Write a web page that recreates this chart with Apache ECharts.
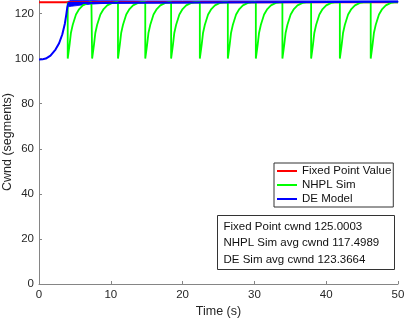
<!DOCTYPE html>
<html>
<head>
<meta charset="utf-8">
<script src="https://cdn.jsdelivr.net/npm/echarts@6/dist/echarts.min.js"></script>
<style>
  html, body { margin: 0; padding: 0; background: #fff; }
  #chart_cwnd { width: 407px; height: 321px; }
</style>
</head>
<body>
<div id="chart_cwnd"></div>
<script>
// values
const xTicks = [0, 10, 20, 30, 40, 50]
const yTicks = [0, 20, 40, 60, 80, 100, 120]

// fixed point value (flat)
const fixedTime = [0, 50]
const fixedCwnd = [125, 125]

// NHPL sim: sawtooth, drops to 100 then climbs back to 125
const nhplPoints = [
  [4.0, 125], [4.0, 100], [4.25, 106], [4.45, 111.5], [4.7, 115], [5.15, 119.6], [5.6, 122], [6.1, 123.6], [6.8, 124.7], [7.3, 125],
  [7.4, 125], [7.4, 100], [7.65, 106], [7.85, 111.5], [8.1, 115], [8.55, 119.6], [9.0, 122], [9.5, 123.6], [10.2, 124.7], [10.7, 125],
  [11.0, 125], [11.0, 100], [11.25, 106], [11.45, 111.5], [11.7, 115], [12.15, 119.6], [12.6, 122], [13.1, 123.6], [13.8, 124.7], [14.3, 125],
  [14.8, 125], [14.8, 100], [15.05, 106], [15.25, 111.5], [15.5, 115], [15.95, 119.6], [16.4, 122], [16.9, 123.6], [17.6, 124.7], [18.1, 125],
  [18.4, 125], [18.4, 100], [18.65, 106], [18.85, 111.5], [19.1, 115], [19.55, 119.6], [20.0, 122], [20.5, 123.6], [21.2, 124.7], [21.7, 125],
  [22.4, 125], [22.4, 100], [22.65, 106], [22.85, 111.5], [23.1, 115], [23.55, 119.6], [24.0, 122], [24.5, 123.6], [25.2, 124.7], [25.7, 125],
  [26.3, 125], [26.3, 100], [26.55, 106], [26.75, 111.5], [27.0, 115], [27.45, 119.6], [27.9, 122], [28.4, 123.6], [29.1, 124.7], [29.6, 125],
  [30.2, 125], [30.2, 100], [30.45, 106], [30.65, 111.5], [30.9, 115], [31.35, 119.6], [31.8, 122], [32.3, 123.6], [33.0, 124.7], [33.5, 125],
  [33.9, 125], [33.9, 100], [34.15, 106], [34.35, 111.5], [34.6, 115], [35.05, 119.6], [35.5, 122], [36.0, 123.6], [36.7, 124.7], [37.2, 125],
  [37.9, 125], [37.9, 100], [38.15, 106], [38.35, 111.5], [38.6, 115], [39.05, 119.6], [39.5, 122], [40.0, 123.6], [40.7, 124.7], [41.2, 125],
  [41.9, 125], [41.9, 100], [42.15, 106], [42.35, 111.5], [42.6, 115], [43.05, 119.6], [43.5, 122], [44.0, 123.6], [44.7, 124.7], [45.2, 125],
  [46.2, 125], [46.2, 100], [46.45, 106], [46.65, 111.5], [46.9, 115], [47.35, 119.6], [47.8, 122], [48.3, 123.6], [49.0, 124.7], [49.5, 125],
  [50, 125]
]

// DE model: S-curve start, then a thin noisy band around 125
const deTime = [0, 0.5, 0.95, 1.6, 2.3, 2.8, 3.25, 3.6, 3.8, 3.95, 4.1, 50]
const deCwnd = [99.6, 99.7, 100.0, 101.3, 104.0, 106.8, 110.8, 115.5, 119.5, 122.9, 124.7, 125.2]
const bandTime = [4.0, 4.5, 5, 6, 7, 8.5, 10, 15, 20, 30, 40, 50]
const bandHigh = [125.3, 125.9, 125.9, 125.8, 125.8, 125.7, 125.7, 125.6, 125.6, 125.6, 125.6, 125.6]
const bandLow = [123.0, 123.2, 123.4, 123.8, 124.1, 124.4, 124.6, 124.8, 124.8, 124.9, 124.9, 124.9]

const seriesNames = ['Fixed Point Value', 'NHPL Sim', 'DE Model']
const statsLines = [
  'Fixed Point cwnd 125.0003',
  'NHPL Sim avg cwnd 117.4989',
  'DE Sim avg cwnd 123.3664'
]

const font = 'Liberation Sans, Arial, Helvetica, sans-serif'
const myChart = echarts.init(document.getElementById('chart_cwnd'), null, { renderer: 'canvas' })

const option = {
  animation: false,
  textStyle: { fontFamily: font },
  grid: { left: 39, right: 9, top: 0, bottom: 37, containLabel: false, outerBoundsMode: 'none' },
  legend: {
    orient: 'vertical',
    left: 274,
    top: 163,
    padding: [1, 2, 1, 3],
    itemGap: 0,
    itemWidth: 20,
    itemHeight: 2,
    icon: 'rect',
    borderColor: '#333',
    borderWidth: 1,
    backgroundColor: '#fff',
    selectedMode: false,
    textStyle: { fontFamily: font, fontSize: 11.5, color: '#111', lineHeight: 14 },
    data: seriesNames
  },
  xAxis: {
    type: 'value',
    min: xTicks[0],
    max: xTicks[xTicks.length - 1],
    interval: 10,
    name: 'Time (s)',
    nameLocation: 'middle',
    nameGap: 21,
    nameMoveOverlap: false,
    nameTextStyle: { fontSize: 12.5, color: '#262626', fontFamily: font },
    axisLine: { lineStyle: { color: '#858585', width: 1 } },
    axisTick: { inside: true, length: 3, lineStyle: { color: '#858585' } },
    axisLabel: { fontSize: 11.5, color: '#262626', margin: 5, fontFamily: font },
    splitLine: { show: false }
  },
  yAxis: {
    type: 'value',
    min: 0,
    max: 126,
    interval: 20,
    name: 'Cwnd (segments)',
    nameLocation: 'middle',
    nameGap: 25,
    nameMoveOverlap: false,
    nameTextStyle: { fontSize: 12.5, color: '#262626', fontFamily: font },
    axisLine: { show: true, lineStyle: { color: '#858585', width: 1 } },
    axisTick: { show: true, inside: true, length: 3, lineStyle: { color: '#858585' } },
    axisLabel: {
      fontSize: 11.5, color: '#262626', margin: 5, fontFamily: font, showMaxLabel: false,
      formatter: v => (yTicks.indexOf(v) >= 0 ? String(v) : '')
    },
    splitLine: { show: false }
  },
  series: [
    {
      name: seriesNames[0],
      type: 'line',
      showSymbol: false,
      lineStyle: { color: '#ff0000', width: 2 },
      itemStyle: { color: '#ff0000' },
      data: fixedTime.map((t, i) => [t, fixedCwnd[i]])
    },
    {
      name: seriesNames[1],
      type: 'line',
      showSymbol: false,
      lineStyle: { color: '#00ff00', width: 1.8 },
      itemStyle: { color: '#00ff00' },
      data: nhplPoints
    },
    {
      name: seriesNames[2],
      type: 'line',
      showSymbol: false,
      lineStyle: { color: '#0000ff', width: 2 },
      itemStyle: { color: '#0000ff' },
      data: deTime.map((t, i) => [t, deCwnd[i]])
    },
    {
      name: 'DE band',
      type: 'custom',
      data: [0],
      z: 3,
      renderItem: function(params, api) {
        const pts = []
        bandTime.forEach((t, i) => pts.push(api.coord([t, bandHigh[i]])))
        for (let i = bandTime.length - 1; i >= 0; i--) {
          pts.push(api.coord([bandTime[i], bandLow[i]]))
        }
        return {
          type: 'polygon',
          shape: { points: pts },
          style: { fill: '#0000ff', stroke: '#0000ff', lineWidth: 0.8 }
        }
      }
    }
  ],
  graphic: [
    {
      type: 'group',
      left: 217,
      top: 215,
      children: [
        {
          type: 'rect',
          shape: { x: 0, y: 0, width: 177, height: 54 },
          style: { fill: '#fff', stroke: '#333', lineWidth: 1 }
        },
        {
          type: 'text',
          x: 6,
          y: 3,
          style: {
            text: statsLines.join('\n'),
            font: '11.5px ' + font,
            fill: '#111',
            lineHeight: 16.5
          }
        }
      ]
    }
  ]
}

myChart.setOption(option)
</script>
</body>
</html>
